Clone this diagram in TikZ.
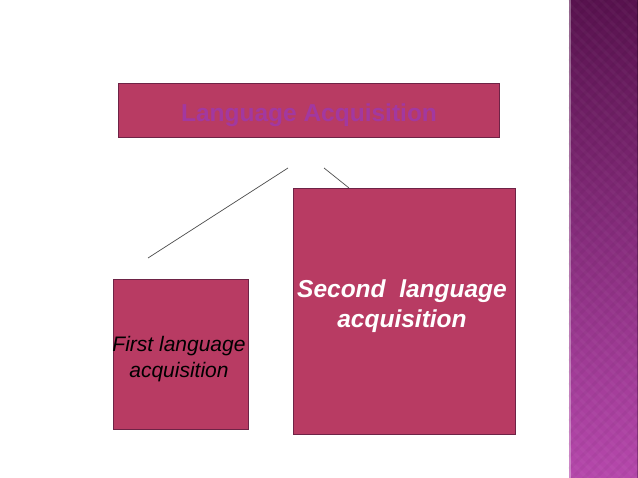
\documentclass[tikz,border=0pt]{standalone}
\usepackage{fontspec}
\setmainfont{Liberation Sans}
\definecolor{boxfill}{RGB}{184,59,99}
\definecolor{boxline}{RGB}{110,35,70}
\definecolor{titletext}{RGB}{162,56,160}
\definecolor{striptop}{RGB}{88,18,78}
\definecolor{stripbot}{RGB}{182,72,172}
\begin{document}
\begin{tikzpicture}[x=1pt,y=-1pt,
  box/.style={draw=boxline,fill=boxfill,line width=0.8pt,inner sep=0pt,align=center},
  link/.style={draw=black!70,line width=0.7pt}]
\useasboundingbox (0,0) rectangle (638,478);
% side strip
\shade[top color=striptop,bottom color=stripbot] (569,0) rectangle (638,478);
\foreach \y in {-80,-68,...,560}
\draw[white,opacity=0.03,line width=3pt] (569,\y) -- (638,\y+69);
\foreach \y in {-80,-68,...,560}
\draw[black,opacity=0.03,line width=3pt] (569,\y+69) -- (638,\y);
\draw[white,opacity=0.35,line width=1.5pt] (570,0) -- (570,478);
\draw[black,opacity=0.25,line width=1pt] (637.5,0) -- (637.5,478);
% boxes
\node[box,minimum width=381pt,minimum height=54pt] (lang) at (308.5,110) {};
\node[text=titletext,font=\fontsize{24.5}{29}\selectfont\bfseries] (langtext) at (309,115) {Language Acquisition};
\node[box,minimum width=222pt,minimum height=246pt] (second) at (404,311) {};
\node[text=white,align=center,font=\fontsize{24.5}{30}\selectfont\bfseries\itshape] (secondtext) at (402,306) {Second\ \ language\\acquisition};
\node[box,minimum width=135pt,minimum height=150pt] (first) at (180.5,354) {};
\node[font=\fontsize{21}{26}\selectfont\itshape,align=center] (firsttext) at (179,359) {First language\\acquisition};
% connectors
\coordinate (a1) at (288,168);
\coordinate (a2) at (148,258);
\coordinate (b1) at (324,168);
\coordinate (b2) at (349,188);
\draw[link] (a1) -- (a2);
\draw[link] (b1) -- (b2);
\end{tikzpicture}
\end{document}
